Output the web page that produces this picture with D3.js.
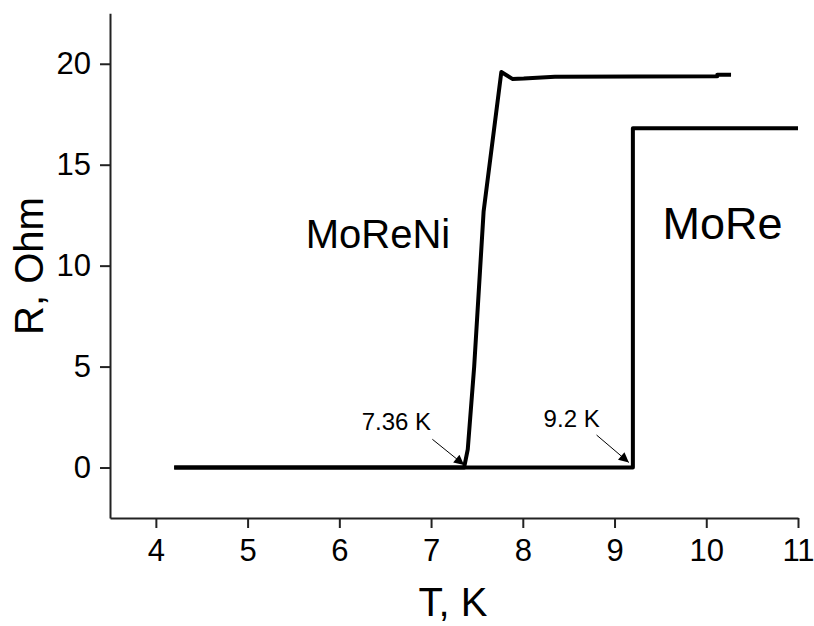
<!DOCTYPE html>
<html>
<head>
<meta charset="utf-8">
<script src="https://cdn.jsdelivr.net/npm/d3@7"></script>
<style>
  body { margin: 0; background: #fff; }
  svg { font-family: "Liberation Sans", Arial, sans-serif; }
</style>
</head>
<body>
<svg id="chart" width="814" height="626"></svg>
<script>
// data (T in K, R in Ohm)
const moreniT = [4.2, 7.36, 7.40, 7.47, 7.573, 7.766, 7.886, 8.01, 8.35, 10.12, 10.12, 10.27];
const moreniR = [0, 0, 0.9, 5.0, 12.7, 19.59, 19.25, 19.27, 19.36, 19.38, 19.45, 19.45];
const moreT = [4.2, 9.2, 9.2, 11.0];
const moreR = [0, 0, 16.8, 16.8];

const xMajor = [4, 5, 6, 7, 8, 9, 10, 11];
const xMinor = [3.5, 4.5, 5.5, 6.5, 7.5, 8.5, 9.5, 10.5];
const yMajor = [0, 5, 10, 15, 20];
const yMinor = [-2.5, 2.5, 7.5, 12.5, 17.5, 22.5];

// annotations: text and arrows [x1, y1, x2, y2] in data units
const labels = [
  { text: "MoReNi", t: 5.634, r: 10.89, size: 40 },
  { text: "MoRe", t: 9.523, r: 11.33, size: 45 },
  { text: "7.36 K", t: 6.244, r: 1.86, size: 24 },
  { text: "9.2 K", t: 8.227, r: 2.02, size: 24 }
];
const arrows = [
  [7.014, 1.40, 7.36, 0.13],
  [8.804, 1.61, 9.156, 0.25]
];

const svg = d3.select("#chart");
const margin = { left: 110, top: 13.3, right: 16, bottom: 108 };
const W = 814, H = 626;

const x = d3.scaleLinear().domain([3.5, 11]).range([margin.left, W - margin.right]);
const y = d3.scaleLinear().domain([-2.5, 22.5]).range([H - margin.bottom, margin.top]);

// arrow marker
svg.append("defs").append("marker")
  .attr("id", "arrowhead")
  .attr("viewBox", "0 0 10 10")
  .attr("refX", 10).attr("refY", 5)
  .attr("markerUnits", "userSpaceOnUse")
  .attr("markerWidth", 14).attr("markerHeight", 10)
  .attr("orient", "auto")
  .append("path")
  .attr("d", "M0,0 L10,5 L0,10 Z")
  .attr("fill", "#000");

// axes: minor then major
const gx = svg.append("g").attr("transform", `translate(0,${y.range()[0]})`);
gx.call(d3.axisBottom(x).tickValues(xMinor).tickSize(5).tickFormat(""));
gx.call(d3.axisBottom(x).tickValues(xMajor).tickSize(10).tickSizeOuter(0).tickPadding(11));

const gy = svg.append("g").attr("transform", `translate(${x.range()[0]},0)`);
gy.call(d3.axisLeft(y).tickValues(yMinor).tickSize(5).tickFormat(""));
gy.call(d3.axisLeft(y).tickValues(yMajor).tickSize(10).tickSizeOuter(0).tickPadding(9));

svg.selectAll(".domain").attr("stroke", "#222").attr("stroke-width", 2);
svg.selectAll(".tick line").attr("stroke", "#222").attr("stroke-width", 2);
svg.selectAll(".tick text")
  .attr("fill", "#000")
  .style("font-size", "31px")
  .style("font-family", "'Liberation Sans', Arial, sans-serif");

// axis titles
svg.append("text")
  .attr("x", 453).attr("y", 616)
  .attr("text-anchor", "middle")
  .style("font-size", "40px")
  .text("T, K");

svg.append("text")
  .attr("transform", "translate(43,266) rotate(-90)")
  .attr("text-anchor", "middle")
  .style("font-size", "40px")
  .text("R, Ohm");

// curves
const line = d3.line().x(d => x(d[0])).y(d => y(d[1]));
const series = [
  d3.zip(moreT, moreR),
  d3.zip(moreniT, moreniR)
];
svg.append("g").selectAll("path")
  .data(series)
  .enter().append("path")
  .attr("d", line)
  .attr("fill", "none")
  .attr("stroke", "#000")
  .attr("stroke-width", 4)
  .attr("stroke-linejoin", "round");

// arrows
svg.append("g").selectAll("line")
  .data(arrows)
  .enter().append("line")
  .attr("x1", d => x(d[0])).attr("y1", d => y(d[1]))
  .attr("x2", d => x(d[2])).attr("y2", d => y(d[3]))
  .attr("stroke", "#000")
  .attr("stroke-width", 1)
  .attr("marker-end", "url(#arrowhead)");

// labels
svg.append("g").selectAll("text")
  .data(labels)
  .enter().append("text")
  .attr("x", d => x(d.t)).attr("y", d => y(d.r))
  .style("font-size", d => d.size + "px")
  .text(d => d.text);
</script>
</body>
</html>
